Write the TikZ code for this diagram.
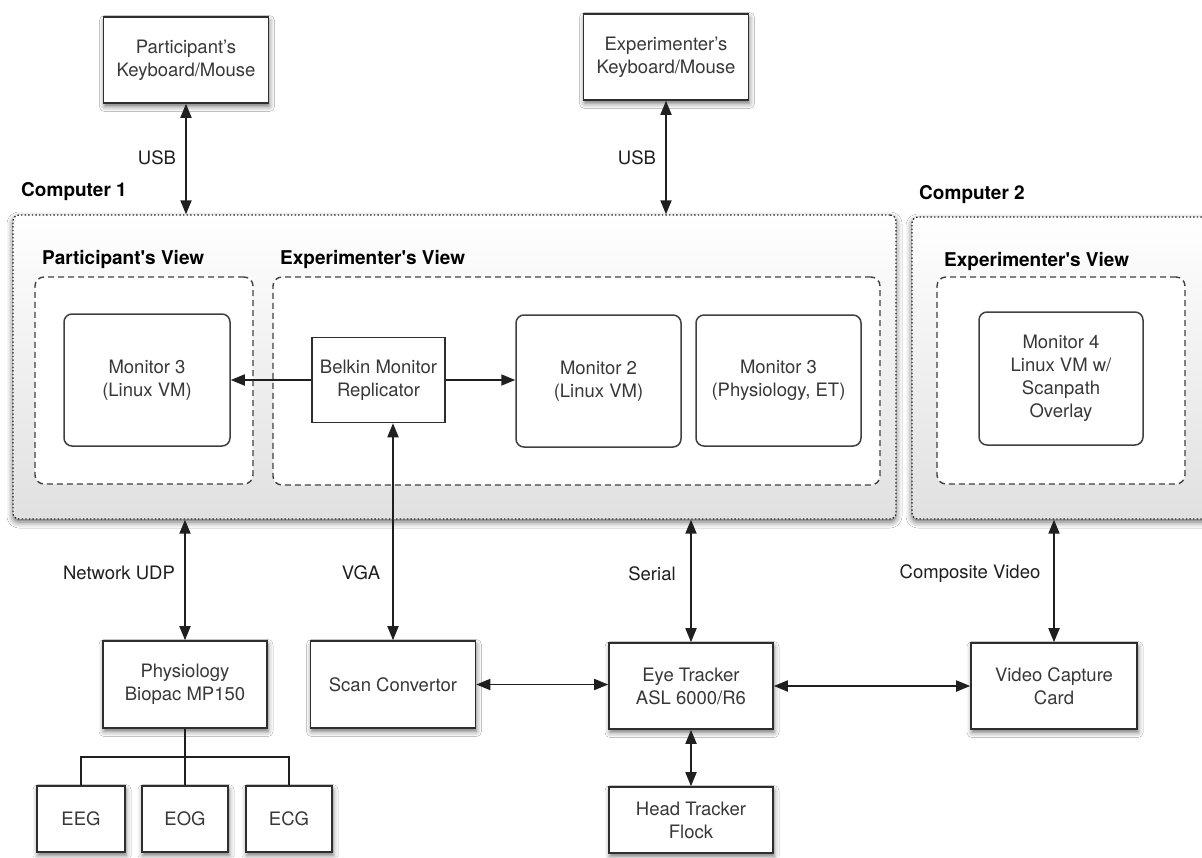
\documentclass[tikz,border=0pt]{standalone}
\usepackage{fontspec}
\setmainfont{TeX Gyre Heros}
\usetikzlibrary{arrows.meta,shadows.blur}

\begin{document}
\begin{tikzpicture}[x=1pt,y=-1pt,
  every node/.style={font=\fontsize{18.5}{23}\selectfont},
  shad/.style={blur shadow={shadow xshift=1pt, shadow yshift=-3.5pt, shadow blur radius=5pt, shadow opacity=55}},
  plainbox/.style={draw=black!82, line width=1.6pt, fill=white, align=center, text=black!78, inner sep=0pt},
  box/.style={shad, plainbox},
  mon/.style={draw=black!75, line width=1.5pt, rounded corners=8pt, fill=white, align=center, text=black!78, inner sep=0pt},
  comp/.style={blur shadow={shadow xshift=0pt, shadow yshift=-3pt, shadow blur radius=6pt, shadow opacity=60}, draw=black!85, line width=1.3pt, dash pattern=on 1.4pt off 2.2pt, rounded corners=6pt, top color=white, bottom color=black!12, inner sep=0pt},
  view/.style={draw=black!75, line width=1.4pt, dash pattern=on 6pt off 4pt, rounded corners=9pt, fill=white, inner sep=0pt},
  hd/.style={font=\bfseries\fontsize{19}{23}\selectfont, anchor=west, inner sep=0pt},
  lbl/.style={text=black!88, inner sep=0pt},
  both/.style={line width=1.8pt, draw=black!88, {Triangle[length=14pt,width=11pt]}-{Triangle[length=14pt,width=11pt]}},
  one/.style={line width=1.8pt, draw=black!88, -{Triangle[length=14pt,width=11pt]}},
  plain/.style={line width=1.8pt, draw=black!88}
]
\clip (0,0) rectangle (1202,857);
\fill[white] (0,0) rectangle (1202,857);

% computers
\node[comp, minimum width=883pt, minimum height=304pt] (comp1) at (454.5,367) {};
\node[comp, minimum width=303pt, minimum height=302pt] (comp2) at (1063.5,368) {};
\node[hd] (c1lbl) at (21,192) {Computer 1};
\node[hd] (c2lbl) at (919,195) {Computer 2};

% views
\node[view, minimum width=218pt, minimum height=207pt] (pview) at (144,380.5) {};
\node[view, minimum width=607pt, minimum height=208pt] (eview1) at (576.5,381) {};
\node[view, minimum width=248pt, minimum height=207pt] (eview2) at (1061,380.5) {};
\node[hd] (pvlbl) at (42,259) {Participant\textquotesingle s View};
\node[hd] (ev1lbl) at (280,259) {Experimenter\textquotesingle s View};
\node[hd] (ev2lbl) at (944,261) {Experimenter\textquotesingle s View};

% monitors
\node[mon, minimum width=166pt, minimum height=132pt] (mon3) at (147,380) {Monitor 3\\(Linux VM)};
\node[plainbox, line width=1.5pt, minimum width=133pt, minimum height=85pt] (belkin) at (378.5,380) {Belkin Monitor\\Replicator};
\node[mon, minimum width=165pt, minimum height=132pt] (mon2) at (598.5,381) {Monitor 2\\(Linux VM)};
\node[mon, minimum width=165pt, minimum height=131pt] (mon3b) at (778.5,380.5) {Monitor 3\\(Physiology, ET)};
\node[mon, minimum width=164pt, minimum height=133pt] (mon4) at (1061,378.5) {Monitor 4\\Linux VM w/\\Scanpath\\Overlay};

% top boxes
\node[box, minimum width=165pt, minimum height=86pt] (pkb) at (186,60) {Participant's\\Keyboard/Mouse};
\node[box, minimum width=165pt, minimum height=86pt] (ekb) at (666,57) {Experimenter's\\Keyboard/Mouse};

% bottom boxes
\node[box, minimum width=164pt, minimum height=87pt] (phys) at (185,684.5) {Physiology\\Biopac MP150};
\node[box, minimum width=165pt, minimum height=87pt] (scan) at (393,684.5) {Scan Convertor};
\node[box, minimum width=164pt, minimum height=86pt] (eye) at (691,686) {Eye Tracker\\ASL 6000/R6};
\node[box, minimum width=166pt, minimum height=86pt] (vcc) at (1054,686) {Video Capture\\Card};
\node[box, minimum width=164pt, minimum height=66pt] (head) at (691,820) {Head Tracker\\Flock};
\node[box, minimum width=88pt, minimum height=66pt] (eeg) at (81,819) {EEG};
\node[box, minimum width=86pt, minimum height=66pt] (eog) at (185,819) {EOG};
\node[box, minimum width=86pt, minimum height=66pt] (ecg) at (289,819) {ECG};

% connectors
\draw[both] (pkb.south) -- (pkb.south |- comp1.north);
\draw[both] (ekb.south) -- (ekb.south |- comp1.north);
\draw[one] (belkin.west) -- (belkin.west -| mon3.east);
\draw[one] (belkin.east) -- (belkin.east -| mon2.west);
\draw[both] (phys.north |- comp1.south) -- (phys.north);
\draw[both] (scan.north |- belkin.south) -- (scan.north);
\draw[both] (eye.north |- comp1.south) -- (eye.north);
\draw[both] (vcc.north |- comp2.south) -- (vcc.north);
\draw[both] (scan.east) -- (scan.east -| eye.west);
\draw[both] (eye.east) -- (eye.east -| vcc.west);
\draw[both] (eye.south) -- (head.north);
\coordinate (split) at (185,757);
\draw[plain] (phys.south) -- (eog.north);
\draw[plain] (eeg.north) -- (eeg.north |- split) -- (ecg.north |- split) -- (ecg.north);

% labels
\node[lbl] (usb1) at (157,158) {USB};
\node[lbl] (usb2) at (637,158) {USB};
\node[lbl] (net) at (119,573) {Network UDP};
\node[lbl] (vga) at (361,573) {VGA};
\node[lbl] (ser) at (652,574) {Serial};
\node[lbl] (cv) at (970,574) {Composite Video};
\end{tikzpicture}
\end{document}
